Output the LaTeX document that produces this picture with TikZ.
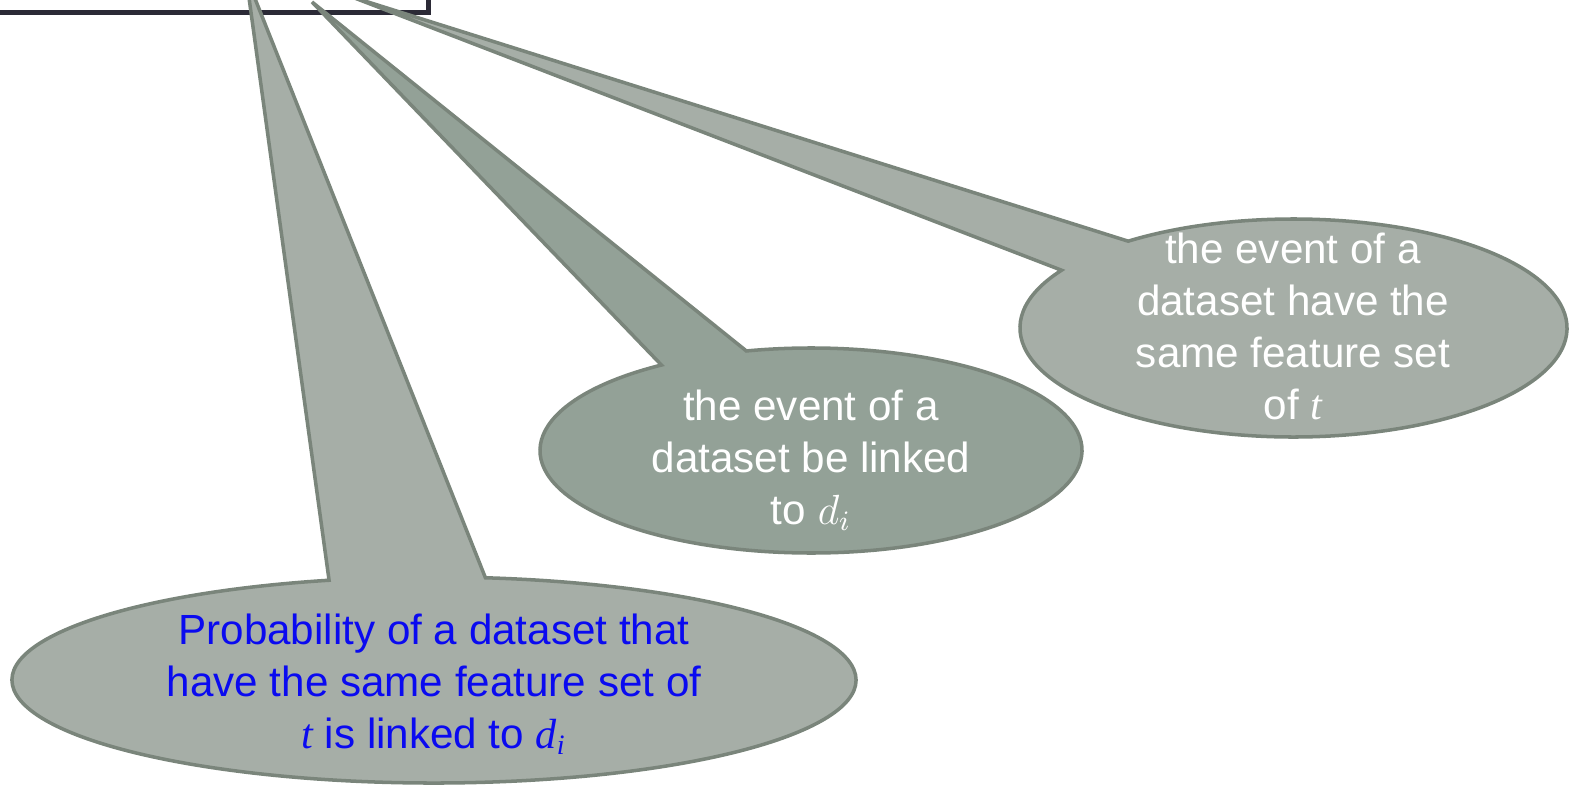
\documentclass[tikz,border=0pt]{standalone}
\usepackage{fontspec}
\setmainfont{Liberation Serif}
\setsansfont{Liberation Sans}
\usepackage{tikz}
\usetikzlibrary{positioning, calc}
\definecolor{BubbleLight}{HTML}{A6AEA7}
\definecolor{BubbleDark}{HTML}{93A197}
\definecolor{BubbleEdge}{HTML}{7A857B}
\definecolor{FrameInk}{HTML}{2B2A36}
\definecolor{NoteBlue}{HTML}{0A0AF0}
\newcommand{\mvar}[1]{{\rmfamily\itshape #1}}
\tikzset{
  formulabox/.style={rectangle, draw=FrameInk, line width=1.4pt, fill=white},
  callout/.style={fill=#1, draw=BubbleEdge, line width=1.0pt, line join=miter},
  notetext/.style={align=center, font=\sffamily\fontsize{12}{14.8}\selectfont, text=white, inner sep=0pt}
}

\begin{document}
\begin{tikzpicture}
  \useasboundingbox (0,0) rectangle (15.71,-7.86);

  % formula frame, cut by the top edge
  \node[formulabox, minimum width=4.8cm, minimum height=1.2cm, anchor=south east] (formula) at (4.31,-0.15) {};

  % pointer tips inside the frame
  \coordinate (tipP) at (2.46,0.24);
  \coordinate (tipL) at (3.12,-0.02);
  \coordinate (tipF) at (3.52,0.03);

  % ellipse centres
  \coordinate (probc) at (4.34,-6.80);
  \coordinate (linkc) at (8.11,-4.505);
  \coordinate (featc) at (12.935,-3.28);

  % callouts
  \filldraw[callout=BubbleLight] (tipP) -- ([shift={(104.4:4.22 and 1.03)}]probc)
    arc[start angle=104.4, end angle=443.0, x radius=4.22, y radius=1.03] -- cycle;
  \filldraw[callout=BubbleDark] (tipL) -- ([shift={(123.5:2.71 and 1.025)}]linkc)
    arc[start angle=123.5, end angle=463.8, x radius=2.71, y radius=1.025] -- cycle;
  \filldraw[callout=BubbleLight] (tipF) -- ([shift={(148.0:2.735 and 1.09)}]featc)
    arc[start angle=148.0, end angle=487.2, x radius=2.735, y radius=1.09] -- cycle;

  % texts
  \node[notetext, text=NoteBlue] (probnote) at (4.34,-6.84)
    {Probability of a dataset that\\have the same feature set of\\\mvar{t} is linked to \mvar{d}\textsubscript{\mvar{i}}};
  \node[notetext] (linknote) at (8.11,-4.60)
    {the event of a\\dataset be linked\\to $d_i$};
  \node[notetext] (featnote) at (12.93,-3.26)
    {the event of a\\dataset have the\\same feature set\\of \mvar{t}};
\end{tikzpicture}
\end{document}
